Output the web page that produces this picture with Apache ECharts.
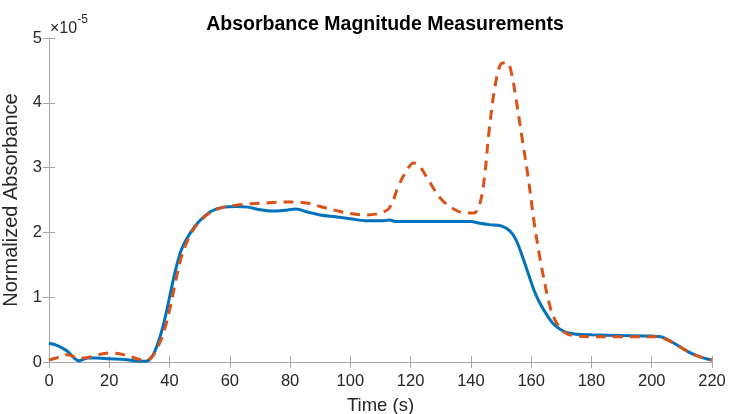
<!DOCTYPE html>
<html>
<head>
<meta charset="utf-8">
<script src="https://cdn.jsdelivr.net/npm/echarts@6/dist/echarts.min.js"></script>
<style>
html,body{margin:0;padding:0;background:#fff;}
#chart{width:729px;height:414px;}
</style>
</head>
<body>
<div id="chart"></div>
<script>
// Values in units of 1e-5
var blueTimes = [0,3,6,10,13,16,20,25,30,32,34,36,38,40,42,44,47,50,54,58,62,66,70,74,78,82,86,90,95,100,105,110,113,115,120,125,130,135,140,143,146,150,153,155,157,159,161,163,166,168,171,175,180,190,200,203,207,212,216,220];
var blueValues = [0.29,0.25,0.17,0.02,0.06,0.06,0.05,0.04,0.01,0.01,0.07,0.27,0.58,1.00,1.42,1.74,2.00,2.18,2.33,2.39,2.40,2.39,2.35,2.33,2.34,2.36,2.31,2.27,2.24,2.21,2.18,2.18,2.19,2.17,2.17,2.17,2.17,2.17,2.17,2.14,2.12,2.10,2.02,1.88,1.64,1.37,1.10,0.90,0.67,0.56,0.47,0.43,0.42,0.41,0.40,0.39,0.30,0.16,0.08,0.03];
var orangeTimes = [0,3,6,10,13,16,20,25,30,32,34,36,38,40,42,44,47,50,54,58,62,66,70,74,78,82,86,90,95,100,105,110,113,116,119,121,123,126,130,134,138,141,143,144.5,146,148,150,152,153.5,155,157,159,161,163,166,168,171,175,180,190,200,203,207,212,216,220];
var orangeValues = [0.03,0.07,0.11,0.06,0.07,0.11,0.14,0.11,0.04,0.03,0.07,0.22,0.45,0.80,1.24,1.63,1.97,2.17,2.32,2.39,2.42,2.44,2.45,2.46,2.47,2.47,2.45,2.40,2.34,2.29,2.27,2.30,2.38,2.72,2.98,3.07,3.02,2.80,2.52,2.37,2.30,2.30,2.45,2.85,3.55,4.25,4.60,4.62,4.45,4.05,3.45,2.85,2.15,1.58,0.90,0.64,0.46,0.40,0.39,0.39,0.39,0.38,0.30,0.16,0.08,0.03];
var xTicks = [0,20,40,60,80,100,120,140,160,180,200,220];
var yTicks = [0,1,2,3,4,5];

function pairs(t, v){ return t.map(function(x,i){ return [x, v[i]]; }); }

var axisCol = '#a6a6a6';
var textCol = '#262626';
var font = 'Liberation Sans, Arial, sans-serif';

var chart = echarts.init(document.getElementById('chart'), null, {renderer:'canvas'});
chart.setOption({
  animation:false,
  backgroundColor:'#fff',
  title:{
    text:'Absorbance Magnitude Measurements',
    left:380, top:10, textAlign:'center',
    textStyle:{fontFamily:font, fontSize:19.5, fontWeight:'bold', color:'#000'}
  },
  grid:{left:49, right:17, top:38, bottom:52, containLabel:false, outerBoundsMode:'none'},
  xAxis:[{
    type:'value', min:0, max:220, interval:20, position:'bottom',
    name:'Time (s)', nameLocation:'middle', nameGap:34,
    nameTextStyle:{fontFamily:font, fontSize:18.5, color:textCol},
    axisLine:{show:true, lineStyle:{color:axisCol, width:1}},
    axisTick:{show:true, inside:true, length:6, lineStyle:{color:axisCol}},
    axisLabel:{fontFamily:font, fontSize:16.5, color:textCol, margin:11,
      formatter:function(v){ return xTicks.indexOf(v) >= 0 ? String(v) : ''; }},
    splitLine:{show:false}
  },{
    type:'value', min:0, max:220, interval:20, position:'top',
    axisLine:{show:true, lineStyle:{color:axisCol, width:1}},
    axisTick:{show:true, inside:true, length:6, lineStyle:{color:axisCol}},
    axisLabel:{show:false}, splitLine:{show:false}
  }],
  yAxis:[{
    type:'value', min:0, max:5, interval:1, position:'left',
    name:'Normalized Absorbance', nameLocation:'middle', nameGap:21,
    nameTextStyle:{fontFamily:font, fontSize:20, color:textCol},
    axisLine:{show:true, lineStyle:{color:axisCol, width:1}},
    axisTick:{show:true, inside:true, length:6, lineStyle:{color:axisCol}},
    axisLabel:{fontFamily:font, fontSize:16.5, color:textCol, margin:7,
      formatter:function(v){ return yTicks.indexOf(v) >= 0 ? String(v) : ''; }},
    splitLine:{show:false}
  },{
    type:'value', min:0, max:5, interval:1, position:'right',
    axisLine:{show:true, lineStyle:{color:axisCol, width:1}},
    axisTick:{show:true, inside:true, length:6, lineStyle:{color:axisCol}},
    axisLabel:{show:false}, splitLine:{show:false}
  }],
  graphic:[{
    type:'text', left:50, top:14,
    style:{
      text:'{a|×10}{b|-5}',
      rich:{
        a:{fontFamily:font, fontSize:16, fill:textCol, padding:[7,0,0,0]},
        b:{fontFamily:font, fontSize:12, fill:textCol, verticalAlign:'top'}
      }
    }
  }],
  series:[{
    type:'line', name:'A', data:pairs(blueTimes, blueValues),
    showSymbol:false, smooth:0.35, z:3,
    lineStyle:{color:'#0072BD', width:3}
  },{
    type:'line', name:'B', data:pairs(orangeTimes, orangeValues),
    showSymbol:false, smooth:0.35, z:4,
    lineStyle:{color:'#D95319', width:3, type:[10,7]}
  }]
});
</script>
</body>
</html>
